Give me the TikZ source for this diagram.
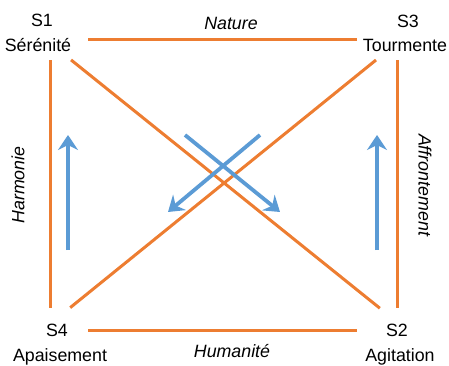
\documentclass[tikz,border=0pt]{standalone}
\usepackage{fontspec}
\setmainfont{Liberation Sans}
\usetikzlibrary{arrows.meta}

\definecolor{edgeorange}{RGB}{237,125,49}
\definecolor{flowblue}{RGB}{91,155,213}

\begin{document}
\begin{tikzpicture}
[
	x							= 1pt,
	y							= 1pt,
	%
	% state names | axis names
	state/.style				=
	{
		anchor					= base,
		inner sep				= 0pt,
		font					= \fontsize{17.8}{21}\selectfont
	},
	axis/.style					=
	{
		state,
		font					= \fontsize{17.8}{21}\selectfont\itshape
	},
	%
	edge/.style					= {edgeorange, line width = 3pt},
	flow/.style					=
	{
		flowblue,
		line width				= 3.8pt,
		-{Stealth[length = 15pt, width = 20pt, inset = 5pt]}
	},
]
	\useasboundingbox (0,0) rectangle (449,365);

	% corners of the square
	\coordinate (c1) at (50,325);
	\coordinate (c3) at (397,325);
	\coordinate (c4) at (50,35);
	\coordinate (c2) at (397,35);

	\node (s1)		[state] at (42,338)		{S1};
	\node (s1name)	[state] at (38,313)		{Sérénité};
	\node (s3)		[state] at (408,337)	{S3};
	\node (s3name)	[state] at (405,313)	{Tourmente};
	\node (s4)		[state] at (57,29)		{S4};
	\node (s4name)	[state] at (60,4)		{Apaisement};
	\node (s2)		[state] at (397,29)		{S2};
	\node (s2name)	[state] at (400,4)		{Agitation};

	\node (nature)		[axis] at (231,335)		{Nature};
	\node (humanite)	[axis] at (232,8)		{Humanité};
	\node (harmonie)	[axis, anchor = center, rotate = 90] at (18,180)	{Harmonie};
	\node (affront)		[axis, anchor = center, rotate = -90] at (425,180)	{Affrontement};

	% sides and diagonals
	\draw [edge, shorten <= 38pt, shorten >= 40pt] (c1) -- (c3);
	\draw [edge, shorten <= 38pt, shorten >= 40pt] (c4) -- (c2);
	\draw [edge, shorten <= 20pt, shorten >= 22pt] (c1) -- (c4);
	\draw [edge, shorten <= 20pt, shorten >= 22pt] (c3) -- (c2);
	\draw [edge, shorten <= 27pt, shorten >= 22pt] ([yshift = -3pt]c1) -- ([yshift = 8pt]c2);
	\draw [edge, shorten <= 27pt, shorten >= 26pt] ([yshift = -3pt]c3) -- ([yshift = 6pt]c4);

	% blue flows
	\coordinate (lefttail)	at (68,115);
	\coordinate (lefttip)	at (68,230);
	\coordinate (righttail)	at (377,115);
	\coordinate (righttip)	at (377,230);
	\coordinate (swtail)	at (260,230);
	\coordinate (swtip)		at (168,153);
	\coordinate (setail)	at (185,230);
	\coordinate (setip)		at (280,153);

	\draw [flow] (lefttail) -- (lefttip);
	\draw [flow] (righttail) -- (righttip);
	\draw [flow] (swtail) -- (swtip);
	\draw [flow] (setail) -- (setip);

\end{tikzpicture}
\end{document}
